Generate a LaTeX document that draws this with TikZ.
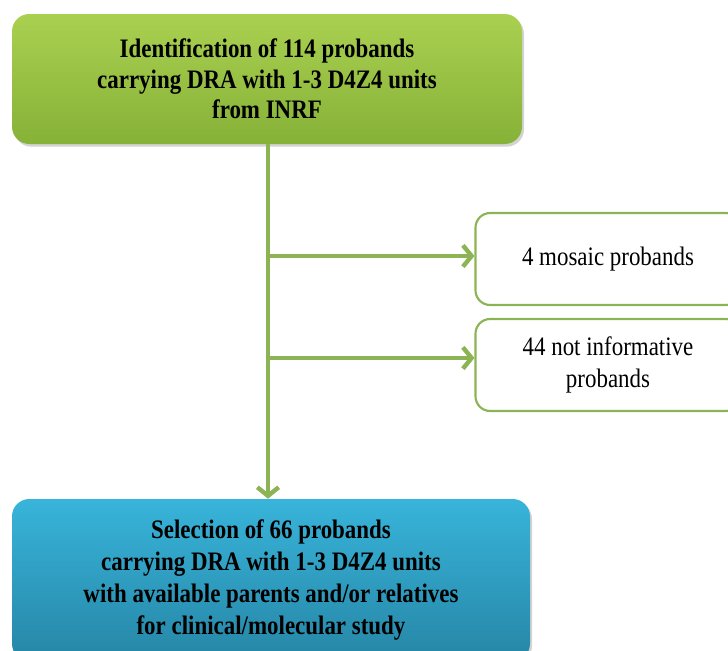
\documentclass[tikz,border=0pt]{standalone}
\usepackage{fontspec}
\setmainfont{Liberation Serif}[FakeStretch=0.86]
\usepackage{tikz}
\usetikzlibrary{positioning, arrows.meta, calc, shadows}

\definecolor{grnTop}{RGB}{170,208,80}
\definecolor{grnBot}{RGB}{134,178,56}
\definecolor{bluTop}{RGB}{56,180,218}
\definecolor{bluBot}{RGB}{38,134,166}
\definecolor{lineGrn}{RGB}{141,180,84}

\tikzset{
	mainbox/.style={rounded corners=13, minimum width=510*0.75pt, align=center, inner sep=0pt,
		font=\fontsize{20}{23}\selectfont\bfseries,
		drop shadow={opacity=0.35, shadow xshift=1.5pt, shadow yshift=-2pt}},
	sidebox/.style={draw=lineGrn, line width=1.6pt, fill=white, rounded corners=11, align=center,
		minimum width=265*0.75pt, minimum height=92*0.75pt, inner sep=0pt,
		font=\fontsize{20}{24}\selectfont},
	flow/.style={draw=lineGrn, line width=3.3pt, -{Straight Barb[length=6.5pt, width=16pt]}}
}

\begin{document}
\begin{tikzpicture}[x=0.75pt,y=0.75pt,yscale=-1,xscale=1]
	\clip (0,0) rectangle (728,650);
	
	% Text Node
	\node [mainbox, minimum height=130*0.75pt, top color=grnTop, bottom color=grnBot] (ident) at (267,79)
		{Identification of 114 probands\\carrying DRA with 1-3 D4Z4 units\\from INRF};
	% Text Node
	\node [sidebox] (mosaic) at (608,259) {4 mosaic probands};
	% Text Node
	\node [sidebox] (notinf) at (608,365) {44 not informative\\probands};
	% Text Node
	\node [mainbox, minimum width=518*0.75pt, minimum height=162*0.75pt, top color=bluTop, bottom color=bluBot, font=\fontsize{20}{24}\selectfont\bfseries] (select) at (271,580)
		{Selection of 66 probands\\carrying DRA with 1-3 D4Z4 units\\with available parents and/or relatives\\for clinical/molecular study};
	
	%Straight Lines
	\coordinate (trunk) at (ident.south -| 268,0);
	\draw [flow] (trunk) -- (trunk |- select.north);
	\draw [flow] (trunk |- 0,256) -- (mosaic.west |- 0,256);
	\draw [flow] (trunk |- 0,358) -- (notinf.west |- 0,358);
\end{tikzpicture}
\end{document}
